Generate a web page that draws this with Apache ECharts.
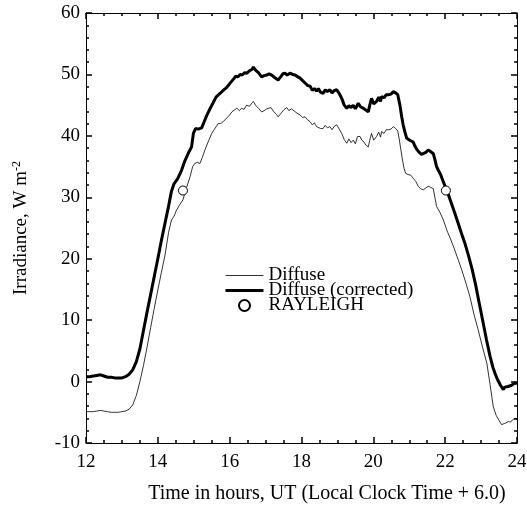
<!DOCTYPE html>
<html>
<head>
<meta charset="utf-8">
<script src="https://cdn.jsdelivr.net/npm/echarts@6/dist/echarts.min.js"></script>
<style>html,body{margin:0;padding:0;background:#fff;}#c{width:527px;height:509px;}</style>
</head>
<body>
<div id="c"></div>
<script>
var xTicks = [12, 14, 16, 18, 20, 22, 24];
var yTicks = [-10, 0, 10, 20, 30, 40, 50, 60];

var diffuse = [
[12.0,-4.9],[12.1,-4.9],[12.2,-4.9],[12.3,-4.8],[12.4,-4.7],[12.5,-4.8],[12.6,-4.9],[12.7,-5.0],[12.8,-5.0],[12.9,-5.0],[13.0,-4.9],[13.1,-4.8],[13.2,-4.5],
[13.3,-3.8],[13.4,-2.3],[13.5,0.0],[13.6,2.6],[13.7,5.6],[13.8,8.8],[13.9,11.9],[14.0,14.9],[14.1,17.8],[14.2,20.6],[14.3,24.3],[14.38,26.3],[14.45,26.9],
[14.52,27.9],[14.6,28.7],[14.7,29.6],[14.8,31.6],[14.9,33.4],[14.97,35.0],[15.03,35.5],[15.1,35.7],[15.17,35.5],[15.24,36.5],[15.31,37.7],[15.4,39.0],
[15.5,40.4],[15.6,41.3],[15.68,42.0],[15.75,42.0],[15.82,42.3],[15.9,42.8],[16.0,43.4],[16.06,43.9],[16.13,44.2],[16.2,44.5],[16.27,44.1],[16.33,44.5],
[16.4,44.3],[16.47,45.0],[16.55,44.8],[16.6,45.2],[16.66,45.6],[16.72,45.0],[16.8,44.5],[16.89,43.9],[16.96,44.1],[17.03,44.4],[17.08,44.2],[17.15,44.6],
[17.22,44.0],[17.3,43.5],[17.35,43.1],[17.42,43.6],[17.5,44.2],[17.59,44.6],[17.65,44.1],[17.72,44.4],[17.77,44.2],[17.85,43.8],[17.9,43.6],[17.96,43.4],
[18.03,43.0],[18.1,43.1],[18.17,42.6],[18.24,42.3],[18.3,41.8],[18.36,42.1],[18.42,41.5],[18.47,41.8],[18.53,41.2],[18.6,41.2],[18.66,41.7],[18.72,41.3],
[18.79,41.5],[18.85,41.0],[18.92,41.6],[18.98,41.8],[19.05,41.1],[19.12,40.4],[19.19,39.4],[19.26,38.8],[19.32,39.5],[19.38,38.9],[19.44,39.3],[19.5,38.7],
[19.56,39.9],[19.63,39.9],[19.68,39.3],[19.74,39.0],[19.79,38.5],[19.86,38.2],[19.9,39.3],[19.95,40.4],[20.01,39.3],[20.09,39.9],[20.15,40.6],[20.2,39.8],
[20.23,40.7],[20.3,40.4],[20.36,41.0],[20.42,41.0],[20.49,41.1],[20.56,41.5],[20.62,41.2],[20.68,40.8],[20.72,39.5],[20.76,38.0],[20.8,36.5],[20.85,34.8],
[20.9,33.9],[20.97,33.7],[21.04,33.6],[21.11,33.1],[21.18,32.6],[21.25,31.8],[21.32,31.4],[21.39,31.2],[21.46,31.5],[21.53,31.8],[21.6,31.6],[21.67,31.4],
[21.72,29.8],[21.76,28.5],[21.85,27.6],[21.95,26.3],[22.05,24.6],[22.15,23.2],[22.25,21.7],[22.37,19.7],[22.46,18.2],[22.58,16.0],[22.69,13.8],[22.8,11.0],
[22.92,8.4],[23.04,5.6],[23.16,3.0],[23.25,-0.5],[23.34,-4.1],[23.42,-5.5],[23.5,-6.3],[23.57,-7.0],[23.62,-7.3],[23.67,-6.8],[23.72,-6.6],[23.76,-6.5],
[23.82,-6.6],[23.88,-6.2],[23.94,-6.0],[24.0,-6.0]
];

var corrected = [
[12.0,0.8],[12.1,0.8],[12.2,0.9],[12.3,1.0],[12.4,1.1],[12.5,0.9],[12.6,0.7],[12.7,0.7],[12.8,0.6],[12.9,0.6],[13.0,0.6],[13.1,0.8],[13.2,1.2],[13.3,1.9],
[13.4,3.2],[13.5,5.3],[13.6,8.3],[13.7,11.3],[13.8,14.2],[13.9,17.1],[14.0,20.0],[14.1,23.0],[14.2,25.8],[14.3,28.6],[14.38,31.0],[14.45,32.2],[14.55,33.0],
[14.66,34.4],[14.75,35.9],[14.85,37.2],[14.94,38.2],[14.99,40.4],[15.05,41.2],[15.12,41.1],[15.22,41.3],[15.29,42.3],[15.36,43.3],[15.45,44.4],[15.54,45.4],
[15.62,46.3],[15.73,46.9],[15.82,47.4],[15.92,47.9],[16.0,48.5],[16.1,49.2],[16.17,49.7],[16.23,49.6],[16.29,50.0],[16.35,49.9],[16.42,50.3],[16.48,50.2],
[16.55,50.6],[16.62,50.8],[16.66,51.2],[16.72,50.7],[16.8,50.3],[16.89,49.6],[16.96,49.8],[17.03,49.9],[17.1,50.1],[17.17,49.9],[17.25,49.5],[17.35,49.1],
[17.42,49.6],[17.48,50.1],[17.54,50.2],[17.6,49.9],[17.68,50.2],[17.75,50.0],[17.82,49.9],[17.9,49.6],[17.96,49.4],[18.03,49.0],[18.1,48.6],[18.17,48.2],
[18.24,48.1],[18.3,47.4],[18.36,47.7],[18.42,47.3],[18.47,47.7],[18.53,47.1],[18.6,46.9],[18.66,47.5],[18.72,47.2],[18.79,47.5],[18.85,47.0],[18.92,47.4],
[18.98,47.5],[19.05,46.9],[19.12,46.1],[19.19,45.0],[19.26,44.5],[19.32,44.9],[19.38,44.6],[19.44,45.0],[19.5,44.4],[19.58,45.3],[19.65,44.7],[19.72,44.5],
[19.79,44.2],[19.86,43.9],[19.9,45.0],[19.95,46.1],[20.01,45.2],[20.09,45.6],[20.15,46.3],[20.2,45.6],[20.23,46.4],[20.3,46.2],[20.36,46.7],[20.42,46.7],
[20.49,46.8],[20.56,47.2],[20.62,47.0],[20.68,46.7],[20.74,45.0],[20.79,43.1],[20.83,41.8],[20.88,40.6],[20.93,39.6],[20.97,39.3],[21.04,39.2],[21.11,39.0],
[21.16,38.3],[21.21,37.8],[21.28,37.3],[21.34,37.0],[21.39,36.9],[21.46,37.3],[21.53,37.7],[21.6,37.4],[21.67,37.1],[21.72,36.0],[21.76,35.0],[21.81,34.4],
[21.88,33.6],[21.95,32.5],[22.02,31.5],[22.09,30.4],[22.18,28.9],[22.27,27.4],[22.36,25.8],[22.45,24.2],[22.55,22.5],[22.65,20.5],[22.75,18.3],[22.85,15.7],
[22.95,12.7],[23.06,9.5],[23.15,6.8],[23.25,4.1],[23.33,2.3],[23.39,1.3],[23.46,0.3],[23.54,-0.6],[23.62,-1.3],[23.66,-0.9],[23.7,-0.6],[23.75,-0.8],
[23.8,-0.5],[23.85,-0.6],[23.9,-0.3],[23.95,-0.2],[24.0,-0.4]
];

var rayleigh = [[14.7,31.1],[22.02,31.1]];

var FONT = '"Liberation Serif", "Times New Roman", serif';
var X_MIN = xTicks[0], X_MAX = xTicks[xTicks.length-1];
var Y_MIN = yTicks[0], Y_MAX = yTicks[yTicks.length-1];

var chart = echarts.init(document.getElementById('c'), null, {renderer: 'canvas'});
function axisBase(extra) {
  return Object.assign({
    type: 'value',
    axisLine: {show: true, onZero: false, lineStyle: {color: '#000', width: 1}},
    axisTick: {show: true, inside: true, length: 6, lineStyle: {color: '#000', width: 1.5}},
    minorTick: {show: true, length: 3, lineStyle: {color: '#000', width: 1.5}},
    splitLine: {show: false},
    minorSplitLine: {show: false}
  }, extra);
}

chart.setOption({
  animation: false,
  backgroundColor: '#fff',
  textStyle: {fontFamily: FONT},
  grid: {left: 86, right: 10, top: 13, bottom: 66, containLabel: false, outerBoundsMode: 'none'},
  title: {
    text: 'Time in hours, UT (Local Clock Time + 6.0)',
    left: 322, top: 479, textAlign: 'center',
    textStyle: {fontFamily: FONT, fontSize: 20, fontWeight: 'normal', color: '#000'}
  },
  legend: {
    orient: 'vertical', left: 224, top: 266, itemWidth: 38, itemHeight: 11, itemGap: -4, padding: 0,
    textStyle: {fontFamily: FONT, fontSize: 19, color: '#000'},
    data: [
      {name: 'Diffuse', itemStyle: {opacity: 0}, lineStyle: {width: 0.8, color: '#000'}},
      {name: 'Diffuse (corrected)', itemStyle: {opacity: 0}, lineStyle: {width: 3, color: '#000'}},
      {name: 'RAYLEIGH'}
    ]
  },
  xAxis: [
    axisBase({
      min: X_MIN, max: X_MAX, interval: 2, position: 'bottom',
      minorTick: {show: true, splitNumber: 4, length: 3, lineStyle: {color: '#000', width: 1.5}},
      axisLabel: {show: true, color: '#000', fontSize: 19, fontFamily: FONT, margin: 10}
    }),
    axisBase({
      min: X_MIN, max: X_MAX, interval: 2, position: 'top',
      minorTick: {show: true, splitNumber: 4, length: 3, lineStyle: {color: '#000', width: 1.5}},
      axisLabel: {show: false}
    })
  ],
  yAxis: [
    axisBase({
      min: Y_MIN, max: Y_MAX, interval: 10, position: 'left',
      minorTick: {show: true, splitNumber: 5, length: 3, lineStyle: {color: '#000', width: 1.5}},
      axisLabel: {show: true, color: '#000', fontSize: 19, fontFamily: FONT, margin: 6},
      name: 'Irradiance, W m{sup|-2}', nameLocation: 'middle', nameGap: 55, nameRotate: 90,
      nameTextStyle: {color: '#000', fontSize: 19, fontFamily: FONT,
        rich: {sup: {fontSize: 12, verticalAlign: 'top', fontFamily: FONT, color: '#000', padding: [0,0,8,0]}}}
    }),
    axisBase({
      min: Y_MIN, max: Y_MAX, interval: 10, position: 'right',
      minorTick: {show: true, splitNumber: 5, length: 3, lineStyle: {color: '#000', width: 1.5}},
      axisLabel: {show: false}
    })
  ],
  series: [
    {name: 'Diffuse', type: 'line', data: diffuse, showSymbol: false, symbol: 'none',
     lineStyle: {color: '#000', width: 0.8}, itemStyle: {color: '#000'}, z: 2},
    {name: 'Diffuse (corrected)', type: 'line', data: corrected, showSymbol: false, symbol: 'none',
     lineStyle: {color: '#000', width: 3}, itemStyle: {color: '#000'}, z: 3},
    {name: 'RAYLEIGH', type: 'scatter', data: rayleigh, symbol: 'circle', symbolSize: 9,
     itemStyle: {color: '#fff', borderColor: '#000', borderWidth: 1, opacity: 1}, z: 5}
  ]
});
</script>
</body>
</html>
